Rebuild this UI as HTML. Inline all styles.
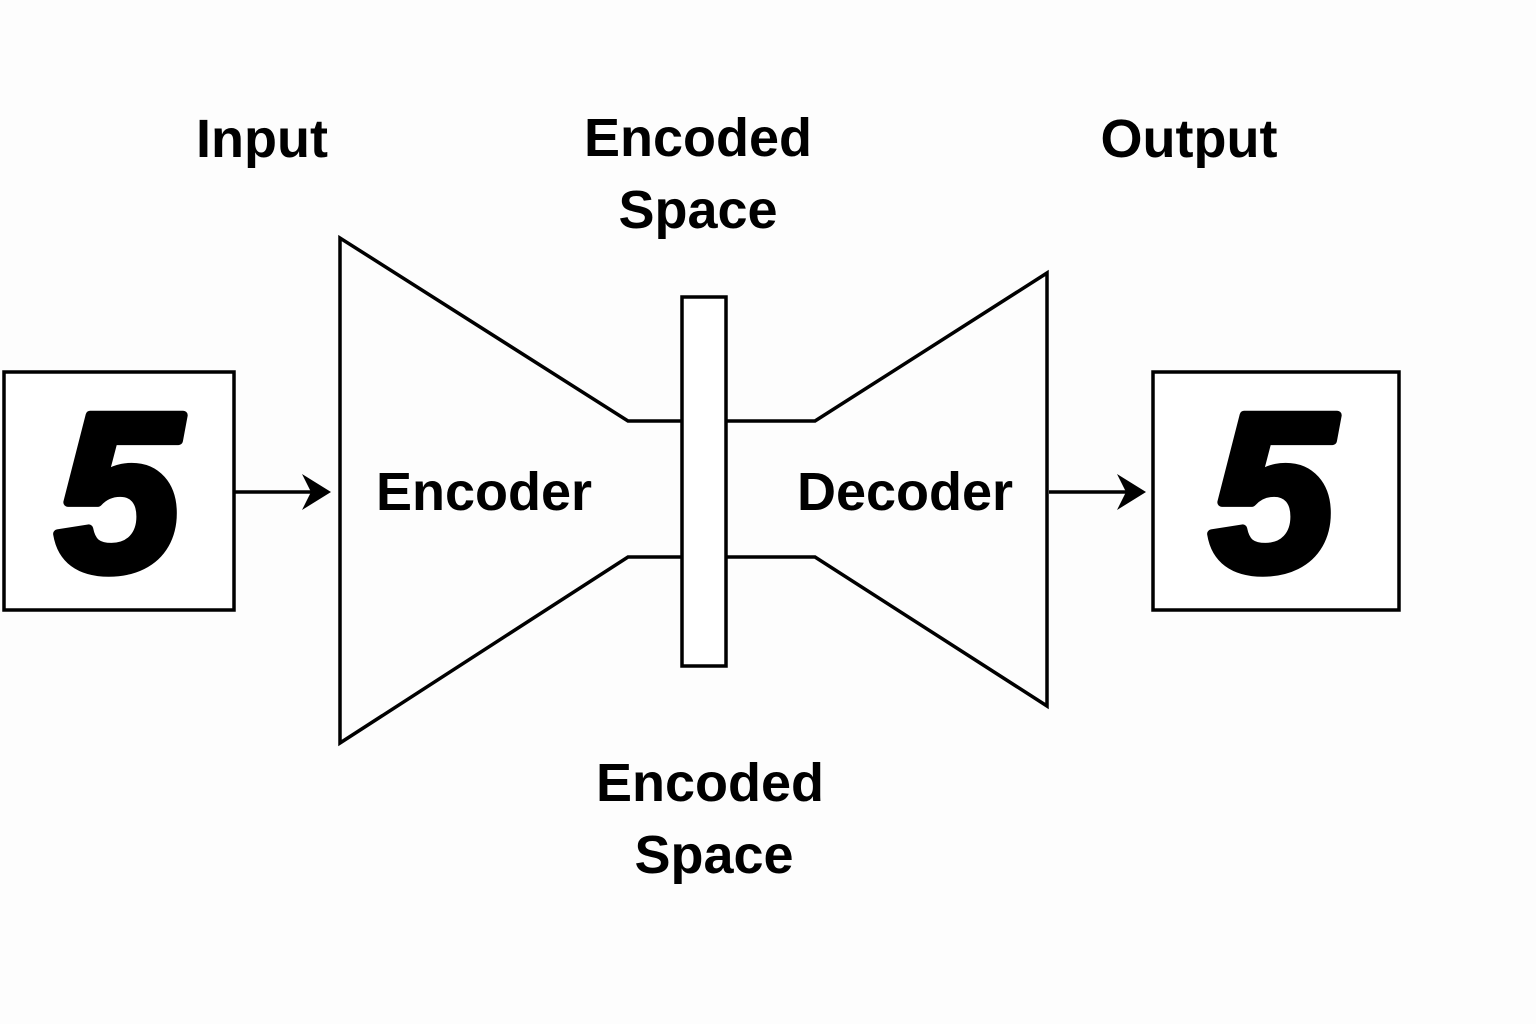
<!DOCTYPE html>
<html><head><meta charset="utf-8"><style>
html,body{margin:0;padding:0;background:#fdfdfd;}
svg{display:block;}
text{font-family:"Liberation Sans",sans-serif;font-weight:bold;fill:#000;}
</style></head><body>
<svg width="1536" height="1024" viewBox="0 0 1536 1024">
<rect width="1536" height="1024" fill="#fdfdfd"/>
<g fill="none" stroke="#000" stroke-width="3.5" stroke-linejoin="miter">
<rect x="4" y="372" width="230" height="238" fill="#fff"/>
<rect x="1153" y="372" width="246" height="238" fill="#fff"/>
<path d="M682,421 L628,421 L340,238 L340,743 L628,557 L682,557"/>
<path d="M726,421 L815,421 L1047,273 L1047,706 L815,557 L726,557"/>
<rect x="682" y="297" width="44" height="369" fill="#fff"/>
<line x1="234" y1="492" x2="320" y2="492"/>
<line x1="1049" y1="492" x2="1135" y2="492"/>
</g>
<polygon points="331,492 302,474 311,492 302,510" fill="#000"/>
<polygon points="1146,492 1117,474 1126,492 1117,510" fill="#000"/>
<text x="118" y="570" font-size="225" font-style="italic" font-weight="normal" text-anchor="middle" stroke="#000" stroke-width="9" stroke-linejoin="round">5</text>
<text x="1272" y="570" font-size="225" font-style="italic" font-weight="normal" text-anchor="middle" stroke="#000" stroke-width="9" stroke-linejoin="round">5</text>
<g font-size="54" text-anchor="middle">
<text x="262" y="157">Input</text>
<text x="1189" y="157">Output</text>
<text x="698" y="156">Encoded</text>
<text x="698" y="228">Space</text>
<text x="710" y="801">Encoded</text>
<text x="714" y="873">Space</text>
<text x="484" y="510">Encoder</text>
<text x="905" y="510">Decoder</text>
</g>
</svg>
</body></html>
